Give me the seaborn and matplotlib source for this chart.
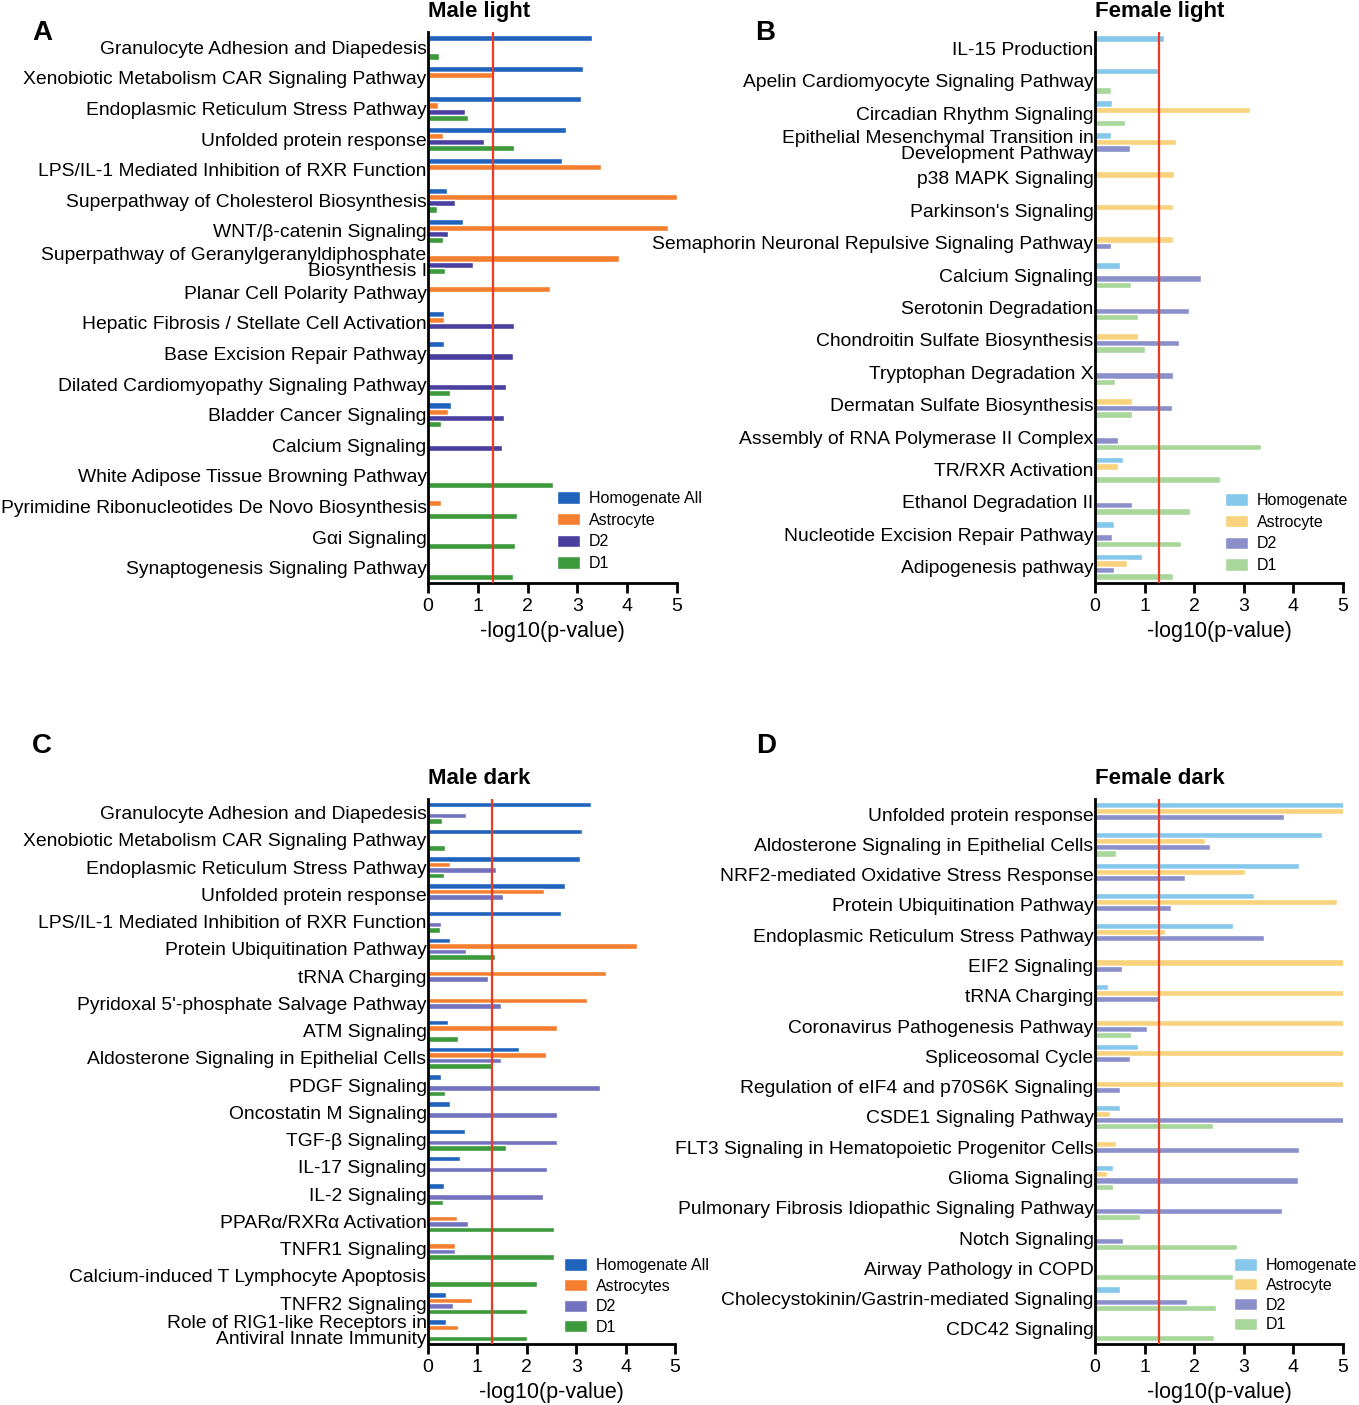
import numpy as np
import pandas as pd
import matplotlib
matplotlib.use('Agg')
import matplotlib.pyplot as plt
import seaborn as sns

# ---- panel A: male light ----
male_light_paths = ['Granulocyte Adhesion and Diapedesis',
                    'Xenobiotic Metabolism CAR Signaling Pathway',
                    'Endoplasmic Reticulum Stress Pathway',
                    'Unfolded protein response',
                    'LPS/IL-1 Mediated Inhibition of RXR Function',
                    'Superpathway of Cholesterol Biosynthesis',
                    'WNT/β-catenin Signaling',
                    'Superpathway of Geranylgeranyldiphosphate\nBiosynthesis I',
                    'Planar Cell Polarity Pathway',
                    'Hepatic Fibrosis / Stellate Cell Activation',
                    'Base Excision Repair Pathway',
                    'Dilated Cardiomyopathy Signaling Pathway',
                    'Bladder Cancer Signaling',
                    'Calcium Signaling',
                    'White Adipose Tissue Browning Pathway',
                    'Pyrimidine Ribonucleotides De Novo Biosynthesis',
                    'Gαi Signaling',
                    'Synaptogenesis Signaling Pathway']
male_light_hom = [3.29, 3.11, 3.07, 2.78, 2.70, 0.38, 0.70, 0, 0, 0.33, 0.33, 0, 0.47, 0, 0, 0, 0, 0]
male_light_ast = [0, 1.29, 0.21, 0.31, 3.48, 4.99, 4.81, 3.83, 2.44, 0.33, 0, 0, 0.41, 0, 0, 0.27, 0, 0]
male_light_d2 = [0, 0, 0.74, 1.12, 0, 0.54, 0.41, 0.90, 0, 1.72, 1.70, 1.56, 1.52, 1.48, 0, 0, 0, 0]
male_light_d1 = [0.22, 0, 0.80, 1.73, 0, 0.19, 0.31, 0.34, 0, 0, 0, 0.44, 0.27, 0, 2.51, 1.79, 1.74, 1.70]

# ---- panel B: female light ----
female_light_paths = ['IL-15 Production',
                      'Apelin Cardiomyocyte Signaling Pathway',
                      'Circadian Rhythm Signaling',
                      'Epithelial Mesenchymal Transition in\nDevelopment Pathway',
                      'p38 MAPK Signaling',
                      "Parkinson's Signaling",
                      'Semaphorin Neuronal Repulsive Signaling Pathway',
                      'Calcium Signaling',
                      'Serotonin Degradation',
                      'Chondroitin Sulfate Biosynthesis',
                      'Tryptophan Degradation X',
                      'Dermatan Sulfate Biosynthesis',
                      'Assembly of RNA Polymerase II Complex',
                      'TR/RXR Activation',
                      'Ethanol Degradation II',
                      'Nucleotide Excision Repair Pathway',
                      'Adipogenesis pathway']
female_light_hom = [1.39, 1.27, 0.34, 0.32, 0, 0, 0, 0.51, 0, 0, 0, 0, 0, 0.56, 0, 0.38, 0.95]
female_light_ast = [0, 0, 3.13, 1.63, 1.59, 1.57, 1.57, 0, 0, 0.87, 0, 0.74, 0, 0.46, 0, 0, 0.65]
female_light_d2 = [0, 0, 0, 0.71, 0, 0, 0.32, 2.13, 1.89, 1.69, 1.57, 1.56, 0.46, 0, 0.75, 0.34, 0.38]
female_light_d1 = [0, 0.32, 0.61, 0, 0, 0, 0, 0.72, 0.86, 1.00, 0.41, 0.75, 3.35, 2.52, 1.91, 1.74, 1.57]

# ---- panel C: male dark ----
male_dark_paths = ['Granulocyte Adhesion and Diapedesis',
                   'Xenobiotic Metabolism CAR Signaling Pathway',
                   'Endoplasmic Reticulum Stress Pathway',
                   'Unfolded protein response',
                   'LPS/IL-1 Mediated Inhibition of RXR Function',
                   'Protein Ubiquitination Pathway',
                   'tRNA Charging',
                   "Pyridoxal 5'-phosphate Salvage Pathway",
                   'ATM Signaling',
                   'Aldosterone Signaling in Epithelial Cells',
                   'PDGF Signaling',
                   'Oncostatin M Signaling',
                   'TGF-β Signaling',
                   'IL-17 Signaling',
                   'IL-2 Signaling',
                   'PPARα/RXRα Activation',
                   'TNFR1 Signaling',
                   'Calcium-induced T Lymphocyte Apoptosis',
                   'TNFR2 Signaling',
                   'Role of RIG1-like Receptors in\nAntiviral Innate Immunity']
male_dark_hom = [3.30, 3.11, 3.07, 2.78, 2.70, 0.45, 0, 0, 0.40, 1.85, 0.26, 0.44, 0.75, 0.64, 0.32, 0, 0, 0, 0.37, 0.37]
male_dark_ast = [0, 0, 0.44, 2.35, 0, 4.23, 3.60, 3.22, 2.62, 2.38, 0, 0, 0, 0, 0, 0.59, 0.55, 0, 0.90, 0.60]
male_dark_d2 = [0.77, 0, 1.38, 1.52, 0.26, 0.76, 1.22, 1.47, 0, 1.47, 3.49, 2.61, 2.61, 2.41, 2.32, 0.81, 0.55, 0, 0.51, 0]
male_dark_d1 = [0.29, 0.34, 0.33, 0, 0.25, 1.35, 0, 0, 0.61, 1.32, 0.34, 0, 1.58, 0, 0.30, 2.55, 2.55, 2.21, 2.01, 2.01]

# ---- panel D: female dark ----
female_dark_paths = ['Unfolded protein response',
                     'Aldosterone Signaling in Epithelial Cells',
                     'NRF2-mediated Oxidative Stress Response',
                     'Protein Ubiquitination Pathway',
                     'Endoplasmic Reticulum Stress Pathway',
                     'EIF2 Signaling',
                     'tRNA Charging',
                     'Coronavirus Pathogenesis Pathway',
                     'Spliceosomal Cycle',
                     'Regulation of eIF4 and p70S6K Signaling',
                     'CSDE1 Signaling Pathway',
                     'FLT3 Signaling in Hematopoietic Progenitor Cells',
                     'Glioma Signaling',
                     'Pulmonary Fibrosis Idiopathic Signaling Pathway',
                     'Notch Signaling',
                     'Airway Pathology in COPD',
                     'Cholecystokinin/Gastrin-mediated Signaling',
                     'CDC42 Signaling']
female_dark_hom = [5.6, 4.58, 4.11, 3.20, 2.78, 0, 0.26, 0, 0.87, 0, 0.51, 0, 0.36, 0, 0, 0, 0.51, 0]
female_dark_ast = [5.6, 2.22, 3.02, 4.88, 1.41, 5.6, 5.6, 5.6, 5.6, 5.6, 0.30, 0.43, 0.25, 0, 0, 0, 0, 0]
female_dark_d2 = [3.81, 2.32, 1.82, 1.54, 3.40, 0.54, 1.32, 1.05, 0.71, 0.51, 5.6, 4.12, 4.09, 3.77, 0.57, 0, 1.85, 0]
female_dark_d1 = [0, 0.42, 0, 0, 0, 0, 0, 0.72, 0, 0, 2.37, 0, 0.36, 0.90, 2.86, 2.78, 2.44, 2.39]

cutoff = 1.3  # -log10(0.05)

male_palette = ['#1f63bd', '#f47f30', '#4a3f9f', '#3c9a3c']
male_dark_palette = ['#1f63bd', '#f47f30', '#7272bf', '#3c9a3c']
female_palette = ['#86c8ec', '#f8d27c', '#8b90cb', '#a9d69b']

sns.set_theme(style='ticks')
plt.rcParams['font.family'] = ['Liberation Sans', 'DejaVu Sans']
plt.rcParams.update({'axes.linewidth': 2.0, 'axes.edgecolor': 'black',
                     'text.color': 'black', 'axes.labelcolor': 'black',
                     'xtick.color': 'black', 'ytick.color': 'black'})

W, H = 1359, 1405
fig = plt.figure(figsize=(W / 100, H / 100), dpi=100)


def px_axes(left, top, right, bottom):
    return fig.add_axes([left / W, 1 - bottom / H, (right - left) / W, (bottom - top) / H])


def draw_panel(ax, paths, hom, ast, d2, d1, groups, palette, title, leg_xy, leg_space):
    df = pd.DataFrame({'pathway': paths, groups[0]: hom, groups[1]: ast,
                       groups[2]: d2, groups[3]: d1})
    long = df.melt(id_vars='pathway', var_name='group', value_name='value')
    sns.barplot(data=long, x='value', y='pathway', hue='group', hue_order=groups,
                order=paths, palette=palette, orient='h', width=0.8, saturation=1,
                errorbar=None, ax=ax)
    ax.axvline(cutoff, color='#ec3b24', lw=1.6, zorder=5)
    ax.set_xlim(0, 5)
    ax.set_xticks(range(6))
    ax.set_xlabel('-log10(p-value)', fontsize=15.5, labelpad=4)
    ax.set_ylabel('')
    ax.tick_params(axis='x', labelsize=14, length=7, width=2, pad=4)
    ax.tick_params(axis='y', labelsize=13.85, length=0, pad=1)
    for lab in ax.get_yticklabels():
        lab.set_linespacing(0.92)
    sns.despine(ax=ax)
    ax.set_title(title, loc='left', fontsize=16, fontweight='bold', pad=11)
    handles, labels = ax.get_legend_handles_labels()
    ax.legend(handles, labels, loc='upper left', frameon=False,
              bbox_to_anchor=(leg_xy[0] / W, 1 - leg_xy[1] / H),
              bbox_transform=fig.transFigure, fontsize=11.5, borderpad=0,
              borderaxespad=0, handlelength=1.45, handleheight=0.8,
              handletextpad=0.55, labelspacing=leg_space)


axA = px_axes(428, 32, 677, 583)
draw_panel(axA, male_light_paths, male_light_hom, male_light_ast, male_light_d2, male_light_d1,
           ['Homogenate All', 'Astrocyte', 'D2', 'D1'], male_palette, 'Male light', (557, 491), 0.42)

axB = px_axes(1095, 32, 1343, 583)
draw_panel(axB, female_light_paths, female_light_hom, female_light_ast, female_light_d2, female_light_d1,
           ['Homogenate', 'Astrocyte', 'D2', 'D1'], female_palette, 'Female light', (1225, 493), 0.42)

axC = px_axes(428, 799, 675, 1344)
draw_panel(axC, male_dark_paths, male_dark_hom, male_dark_ast, male_dark_d2, male_dark_d1,
           ['Homogenate All', 'Astrocytes', 'D2', 'D1'], male_dark_palette, 'Male dark', (564, 1258), 0.35)

axD = px_axes(1095, 799, 1343, 1344)
draw_panel(axD, female_dark_paths, female_dark_hom, female_dark_ast, female_dark_d2, female_dark_d1,
           ['Homogenate', 'Astrocyte', 'D2', 'D1'], female_palette, 'Female dark', (1234, 1258), 0.3)

for letter, x, y in [('A', 42, 33), ('B', 765, 33), ('C', 42, 746), ('D', 766, 746)]:
    fig.text(x / W, 1 - y / H, letter, fontsize=20, fontweight='bold', ha='center', va='center')

fig.savefig('out.png', dpi=100)
